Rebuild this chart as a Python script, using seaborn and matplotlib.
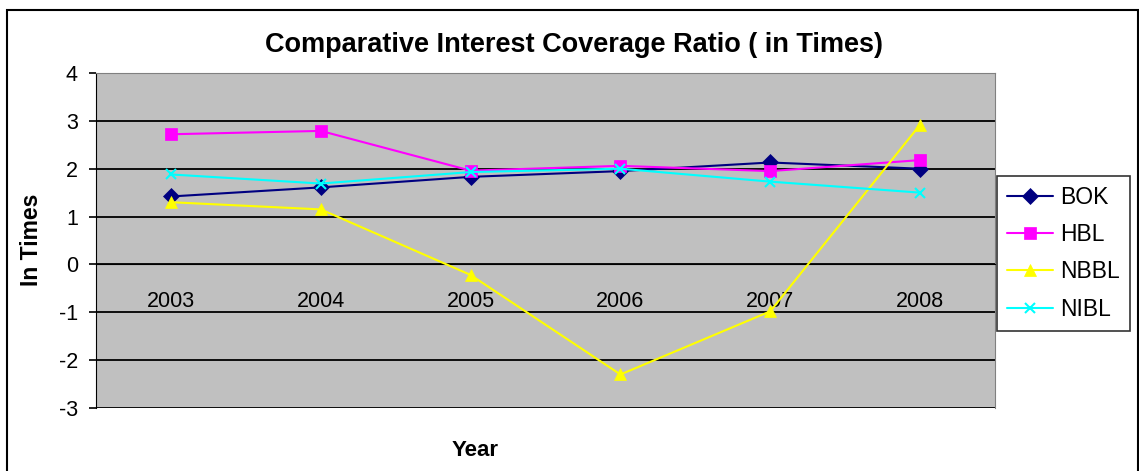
import numpy as np
import pandas as pd
import seaborn as sns
import matplotlib.pyplot as plt
from matplotlib.patches import Rectangle

years = ["2003", "2004", "2005", "2006", "2007", "2008"]
bok = [1.42, 1.61, 1.83, 1.95, 2.13, 2.00]
hbl = [2.72, 2.79, 1.96, 2.06, 1.95, 2.18]
nbbl = [1.30, 1.15, -0.22, -2.30, -0.98, 2.92]
nibl = [1.88, 1.69, 1.93, 2.00, 1.73, 1.50]

banks = ["BOK", "HBL", "NBBL", "NIBL"]
colors = ["#000080", "#FF00FF", "#FFFF00", "#00FFFF"]
markers = ["D", "s", "^", "x"]

df = pd.DataFrame({"Year": years * 4,
                   "Bank": np.repeat(banks, len(years)),
                   "Value": bok + hbl + nbbl + nibl})
df["pos"] = np.tile(np.arange(len(years)), 4)

sns.set_style("white")
plt.rcParams["font.family"] = ["Liberation Sans", "DejaVu Sans"]
plt.rcParams["axes.unicode_minus"] = False
plt.rcParams["text.color"] = "black"
plt.rcParams["xtick.color"] = "black"
plt.rcParams["ytick.color"] = "black"
plt.rcParams["axes.labelcolor"] = "black"

fig = plt.figure(figsize=(11.39, 4.71), dpi=100)
ax = fig.add_axes([0.0843, 0.1338, 0.7893, 0.7112])
ax.set_facecolor("#C0C0C0")

for b, c, m in zip(banks, colors, markers):
    sub = df[df["Bank"] == b]
    sns.lineplot(data=sub, x="pos", y="Value", ax=ax, color=c, marker=m,
                 markersize=8 if m != "x" else 7, markeredgecolor=c,
                 markeredgewidth=1.5 if m == "x" else 0.5,
                 linewidth=1.5, label=b, zorder=3)

ax.set_xlim(-0.5, len(years) - 0.5)
ax.set_ylim(-3, 4)
ax.set_yticks(range(-3, 5))
for y in range(-3, 5):
    ax.axhline(y, color="black", linewidth=1.3, zorder=1)

ax.spines["bottom"].set_position(("data", 0))
ax.spines["bottom"].set_color("black")
ax.spines["left"].set_color("black")
ax.spines["top"].set_color("#808080")
ax.spines["right"].set_color("#808080")
ax.set_xticks(range(len(years)))
ax.set_xticklabels(years, fontsize=15.5)
ax.set_xticks(np.arange(-0.5, len(years)), minor=True)
ax.tick_params(axis="x", which="major", length=0, pad=19)
ax.tick_params(axis="x", which="minor", length=6, width=1.2, direction="out", color="black")
ax.tick_params(axis="y", length=5, width=1.2, direction="out", color="black",
               labelsize=15.5, pad=8, left=True)

ax.set_xlabel("")
ax.set_ylabel("")
fig.text(31 / 1139, 1 - 240 / 471, "In Times", rotation=90, ha="center", va="center",
         fontsize=16.5, fontweight="bold")
fig.text(475 / 1139, 1 - 450 / 471, "Year", ha="center", va="center",
         fontsize=16, fontweight="bold")
fig.text(574 / 1139, 1 - 45 / 471, "Comparative Interest Coverage Ratio ( in Times)",
         ha="center", va="center", fontsize=19.5, fontweight="bold")

leg = ax.legend(loc="center left", bbox_to_anchor=(1.002, 0.462), frameon=True,
                fancybox=False, fontsize=16.5, handlelength=2.0, labelspacing=0.62,
                borderpad=0.45, handletextpad=0.3, borderaxespad=0)
leg.get_frame().set_edgecolor("black")
leg.get_frame().set_linewidth(1.2)

fig.patches.append(Rectangle((7 / 1139, -0.01), 1131 / 1139, 1 - 10 / 471 + 0.01,
                             transform=fig.transFigure, fill=False,
                             edgecolor="black", linewidth=1.5))

fig.savefig("out.png", dpi=100)
